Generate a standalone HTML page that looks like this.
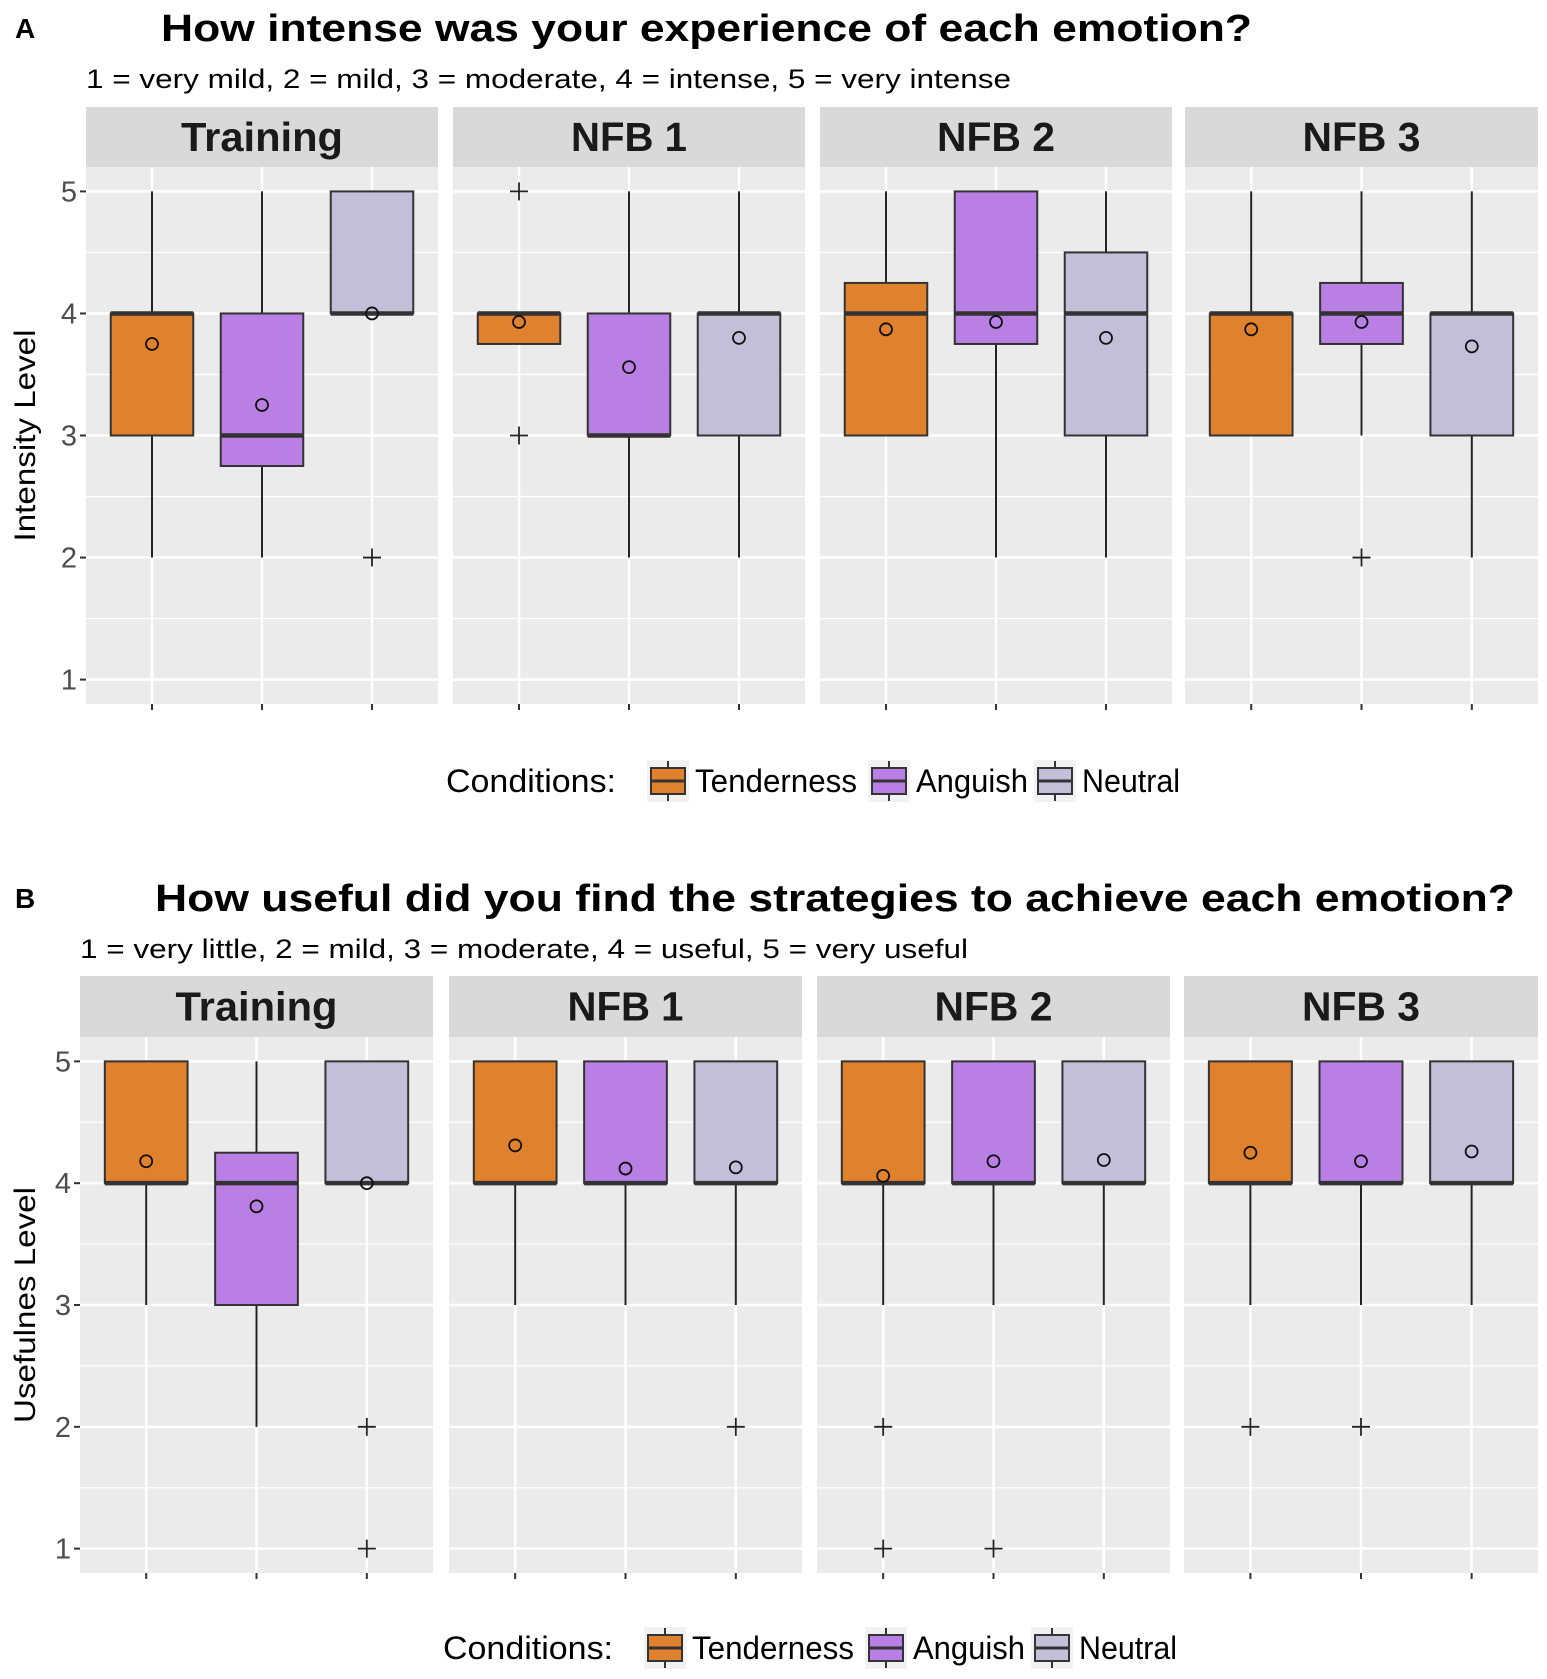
<!DOCTYPE html>
<html><head><meta charset="utf-8"><style>
html,body{margin:0;padding:0;background:#fff}
svg{display:block}
text{font-family:"Liberation Sans",Arial,sans-serif}
</style></head><body>
<svg id="fig" width="1547" height="1679" viewBox="0 0 1547 1679" xmlns="http://www.w3.org/2000/svg"></svg>
<script>
const facets = ["Training","NFB 1","NFB 2","NFB 3"];
const conditions = ["Tenderness","Anguish","Neutral"];
const colors = ["#E0812E","#B97FE5","#C3BFD8"];
const yTicks = [1,2,3,4,5];
// [lower, q1, median, q3, upper] per facet per condition
const intensityStats = [
 [[2,3,4,4,5],[2,2.75,3,4,5],[4,4,4,5,5]],
 [[3.75,3.75,4,4,4],[2,3,3,4,5],[2,3,4,4,5]],
 [[3,3,4,4.25,5],[2,3.75,4,5,5],[2,3,4,4.5,5]],
 [[3,3,4,4,5],[3,3.75,4,4.25,5],[2,3,4,4,5]]
];
const intensityMeans = [[3.75,3.25,4.0],[3.93,3.56,3.8],[3.87,3.93,3.8],[3.87,3.93,3.73]];
const intensityOutliers = [[[],[],[2]],[[5,3],[],[]],[[],[],[]],[[],[2],[]]];
const usefulStats = [
 [[3,4,4,5,5],[2,3,4,4.25,5],[4,4,4,5,5]],
 [[3,4,4,5,5],[3,4,4,5,5],[3,4,4,5,5]],
 [[3,4,4,5,5],[3,4,4,5,5],[3,4,4,5,5]],
 [[3,4,4,5,5],[3,4,4,5,5],[3,4,4,5,5]]
];
const usefulMeans = [[4.18,3.81,4.0],[4.31,4.12,4.13],[4.06,4.18,4.19],[4.25,4.18,4.26]];
const usefulOutliers = [[[],[],[2,1]],[[],[],[2]],[[2,1],[1],[]],[[2],[2],[]]];

const NS="http://www.w3.org/2000/svg";
const svg=document.getElementById('fig');
function el(tag,attrs,parent,txt){const e=document.createElementNS(NS,tag);for(const k in attrs)e.setAttribute(k,attrs[k]);if(txt!==undefined)e.textContent=txt;(parent||svg).appendChild(e);return e;}
const stripW={"Training":162,"NFB 1":116,"NFB 2":118,"NFB 3":118};

function panelSet(cfg){
  const g=el('g',{});
  
  
  const t=el('text',{x:15,y:cfg.titleY+10,'font-size':28,'font-weight':'bold',fill:'#000'},g,cfg.letter);
  
  const tt=el('text',{x:cfg.titleX,y:cfg.titleY+13,'font-size':38,'font-weight':'bold',fill:'#000',textLength:cfg.titleW,lengthAdjust:'spacingAndGlyphs'},g,cfg.title);
  
  const st=el('text',{x:cfg.subX,y:cfg.subY+9,'font-size':27,fill:'#000',textLength:cfg.subW,lengthAdjust:'spacingAndGlyphs'},g,cfg.sub);
  
  const yMin=0.8,yMax=5.2;
  const y=v=>cfg.bottom-(v-yMin)/(yMax-yMin)*(cfg.bottom-cfg.top);
  cfg.panels.forEach((p,fi)=>{
    const [x0,x1]=p;const w=x1-x0;
    const xc=i=>x0+(i+1-0.4)/3.2*w;
    const bw=0.75/3.2*w;
    const pg=el('g',{},g);
    
    
    el('rect',{x:x0,y:cfg.stripTop,width:w,height:cfg.top-cfg.stripTop,fill:'#D9D9D9'},pg);
    const sl=el('text',{x:(x0+x1)/2-stripW[facets[fi]]/2,y:(cfg.stripTop+cfg.top)/2+14,'font-size':41,'font-weight':'bold',fill:'#1a1a1a',textLength:stripW[facets[fi]],lengthAdjust:'spacingAndGlyphs'},pg,facets[fi]);
    
    el('rect',{x:x0,y:cfg.top,width:w,height:cfg.bottom-cfg.top,fill:'#EBEBEB'},pg);
    for(let v=1.5;v<5;v+=1) el('line',{x1:x0,x2:x1,y1:y(v),y2:y(v),stroke:'#fff','stroke-width':1.2},pg);
    yTicks.forEach(v=>el('line',{x1:x0,x2:x1,y1:y(v),y2:y(v),stroke:'#fff','stroke-width':2.5},pg));
    for(let i=0;i<3;i++){
      el('line',{x1:xc(i),x2:xc(i),y1:cfg.top,y2:cfg.bottom,stroke:'#fff','stroke-width':2.5},pg);
      el('line',{x1:xc(i),x2:xc(i),y1:cfg.bottom,y2:cfg.bottom+6,stroke:'#333','stroke-width':2},pg);
    }
    for(let i=0;i<3;i++){
      const s=cfg.stats[fi][i];
      const bg=el('g',{},pg);
      
      
      el('line',{x1:xc(i),x2:xc(i),y1:y(s[4]),y2:y(s[0]),stroke:'#222','stroke-width':2},bg);
      el('rect',{x:xc(i)-bw/2,y:y(s[3]),width:bw,height:Math.max(0.5,y(s[1])-y(s[3])),fill:colors[i],stroke:'#333','stroke-width':2},bg);
      el('line',{x1:xc(i)-bw/2,x2:xc(i)+bw/2,y1:y(s[2]),y2:y(s[2]),stroke:'#333','stroke-width':4.5},bg);
      cfg.outliers[fi][i].forEach(o=>{
        el('path',{d:`M${xc(i)-9},${y(o)}h18M${xc(i)},${y(o)-9}v18`,stroke:'#222','stroke-width':1.8,fill:'none'},bg);
      });
      const m=el('circle',{cx:xc(i),cy:y(cfg.means[fi][i]),r:6,fill:'none',stroke:'#111','stroke-width':1.8},bg);
      
    }
  });
  const x0=cfg.panels[0][0];
  yTicks.forEach(v=>{
    el('line',{x1:x0-6,x2:x0,y1:y(v),y2:y(v),stroke:'#333','stroke-width':2},g);
    const tl=el('text',{x:x0-9,y:y(v)+10,'font-size':29,'text-anchor':'end',fill:'#4d4d4d'},g,String(v));
    
  });
  const yt=el('text',{transform:`translate(35,${(cfg.top+cfg.bottom)/2}) rotate(-90)`,'font-size':30,'text-anchor':'middle',fill:'#000',textLength:cfg.yTitleW,lengthAdjust:'spacingAndGlyphs'},g,cfg.yTitle);
  
  const lg=el('g',{},g);
  
  const ly=cfg.legendY;
  el('text',{x:cfg.legX,y:ly+11,'font-size':32,fill:'#000',textLength:170,lengthAdjust:'spacingAndGlyphs'},lg,'Conditions:');
  const keyX=[cfg.legX+201,cfg.legX+422,cfg.legX+588];
  const txtW=[162,112,98];
  conditions.forEach((c,i)=>{
    const k=el('g',{},lg);
    
    
    const kx=keyX[i];
    el('rect',{x:kx,y:ly-21,width:42,height:42,fill:'#F2F2F2'},k);
    el('line',{x1:kx+21,x2:kx+21,y1:ly-20,y2:ly+20,stroke:'#333','stroke-width':2},k);
    el('rect',{x:kx+4,y:ly-13,width:34,height:26,fill:colors[i],stroke:'#333','stroke-width':2},k);
    el('line',{x1:kx+4,x2:kx+38,y1:ly,y2:ly,stroke:'#333','stroke-width':3},k);
    el('text',{x:kx+48,y:ly+11,'font-size':32,fill:'#000',textLength:txtW[i],lengthAdjust:'spacingAndGlyphs'},k,c);
  });
}
panelSet({name:'panel-a-intensity',letter:'A',title:'How intense was your experience of each emotion?',titleX:161,titleW:1091,titleY:28,
  sub:'1 = very mild, 2 = mild, 3 = moderate, 4 = intense, 5 = very intense',subX:86,subW:925,subY:79,
  panels:[[86,438],[453,805],[820,1172],[1185,1538]],stripTop:107,top:167,bottom:704,
  stats:intensityStats,means:intensityMeans,outliers:intensityOutliers,yTitle:'Intensity Level',yTitleW:212,legendY:781,legX:446});
panelSet({name:'panel-b-usefulness',letter:'B',title:'How useful did you find the strategies to achieve each emotion?',titleX:155,titleW:1360,titleY:898,
  sub:'1 = very little, 2 = mild, 3 = moderate, 4 = useful, 5 = very useful',subX:80,subW:888,subY:949,
  panels:[[80,433],[449,802],[817,1170],[1184,1538]],stripTop:976,top:1037,bottom:1573,
  stats:usefulStats,means:usefulMeans,outliers:usefulOutliers,yTitle:'Usefulnes Level',yTitleW:236,legendY:1648,legX:443});
</script>
</body></html>
